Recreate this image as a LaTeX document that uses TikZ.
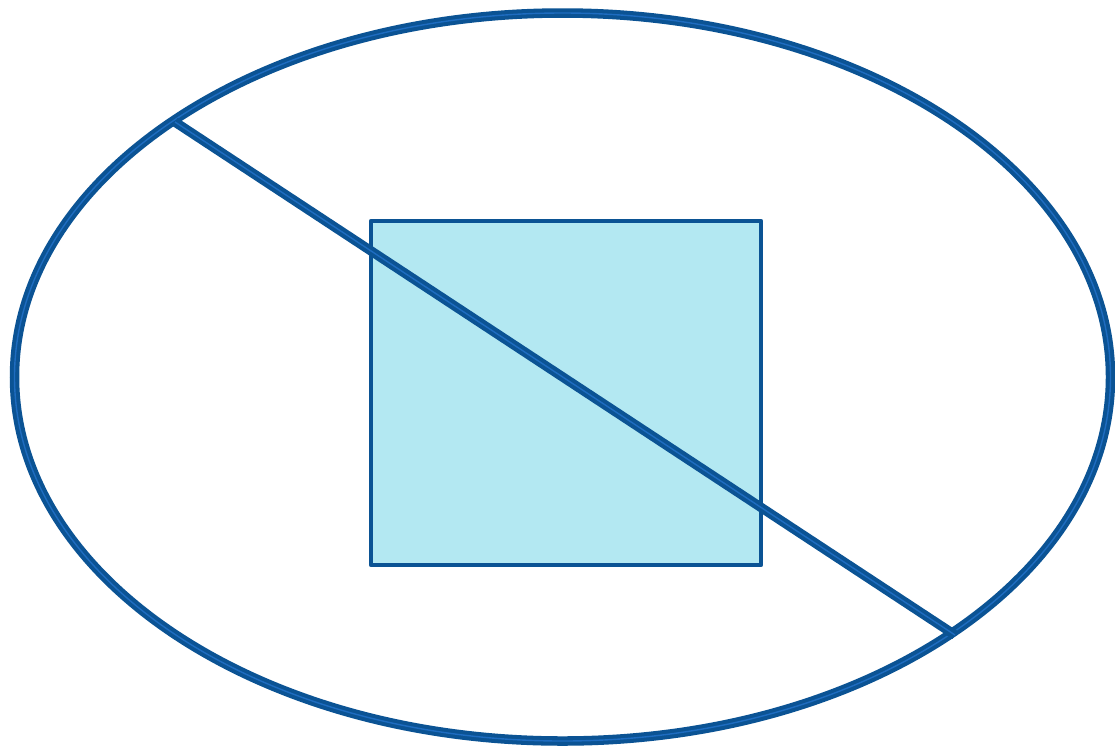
\documentclass[tikz,border=0pt]{standalone}
\definecolor{edge}{HTML}{0B5394}
\definecolor{stripe}{HTML}{1E6CC0}
\definecolor{boxfill}{HTML}{B3E8F2}
\begin{document}
\begin{tikzpicture}[x=1pt,y=-1pt,
  outer/.style={draw=edge,line width=9.5pt},
  inner/.style={draw=stripe,line width=1.4pt},
  boxstyle/.style={draw=edge,fill=boxfill,line width=4.8pt,line join=round}]
\useasboundingbox[fill=white] (0,0) rectangle (1115,748);
\draw[boxstyle] (371,221) rectangle (761,565);
\draw[outer] (562.5,377) ellipse [x radius=548, y radius=364];
\draw[inner] (562.5,377) ellipse [x radius=548, y radius=364];
\coordinate (p1) at (175,122);
\coordinate (p2) at (955,635);
\draw[outer] (p1) -- (p2);
\draw[inner] (p1) -- (p2);
\end{tikzpicture}
\end{document}
